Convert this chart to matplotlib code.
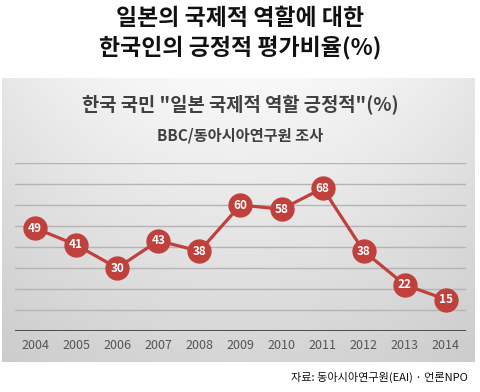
import numpy as np
import matplotlib.pyplot as plt

plt.rcParams['font.family'] = ['Noto Sans CJK KR', 'DejaVu Sans']

years = [2004, 2005, 2006, 2007, 2008, 2009, 2010, 2011, 2012, 2013, 2014]
values = [49, 41, 30, 43, 38, 60, 58, 68, 38, 22, 15]

title = '일본의 국제적 역할에 대한\n한국인의 긍정적 평가비율(%)'
chart_title = '한국 국민 "일본 국제적 역할 긍정적"(%)'
subtitle = 'BBC/동아시아연구원 조사'
source = '자료: 동아시아연구원(EAI) · 언론NPO'

W, H = 480, 392
fig = plt.figure(figsize=(W / 100, H / 100), dpi=100)
fig.patch.set_facecolor('white')

# 회색 그라데이션 배경 패널
bg = fig.add_axes([2 / W, (H - 362) / H, 473 / W, 284 / H])
yy = np.linspace(0, 1, 200)[:, None]
xx = np.linspace(-1, 1, 300)[None, :]
shade = 0.975 - 0.14 * yy - 0.07 * xx ** 2 * (1 - 0.5 * yy)
bg.imshow(np.dstack([shade] * 3), aspect='auto', extent=[0, 1, 0, 1], origin='upper')
bg.set_axis_off()

ax = fig.add_axes([14.5 / W, (H - 331) / H, 452 / W, 168 / H])
ax.set_facecolor('none')
ax.set_xlim(years[0] - 0.5, years[-1] + 0.5)
ax.set_ylim(0, 80)
for v in range(10, 81, 10):
    ax.axhline(v, color='#b4b4b4', lw=1.0, zorder=1)
ax.axhline(0, color='#222222', lw=1.8, zorder=2)

ax.plot(years, values, color='#c0403c', lw=2.3, marker='o', ms=16.5,
        mfc='#c0403c', mec='#c0403c', zorder=3)
for x, v in zip(years, values):
    ax.text(x, v, str(v), ha='center', va='center', color='white',
            fontsize=8.5, fontweight='bold', zorder=4)

for s in ax.spines.values():
    s.set_visible(False)
ax.set_yticks([])
ax.set_xticks(years)
ax.set_xticklabels([str(y) for y in years], fontsize=9, color='#555555')
ax.tick_params(axis='x', length=0, pad=6)

fig.text(0.5, 1 - 33 / H, title, ha='center', va='center', fontsize=16.5,
         fontweight='black', color='#111111', linespacing=1.3)
fig.text(0.5, 1 - 104 / H, chart_title, ha='center', va='center', fontsize=13.5,
         fontweight='bold', color='#404040')
fig.text(0.5, 1 - 135 / H, subtitle, ha='center', va='center', fontsize=11,
         fontweight='bold', color='#404040')
fig.text(468 / W, 1 - 377 / H, source, ha='right', va='center', fontsize=8,
         fontweight='medium', color='#111111')

fig.savefig('out.png', dpi=100)
